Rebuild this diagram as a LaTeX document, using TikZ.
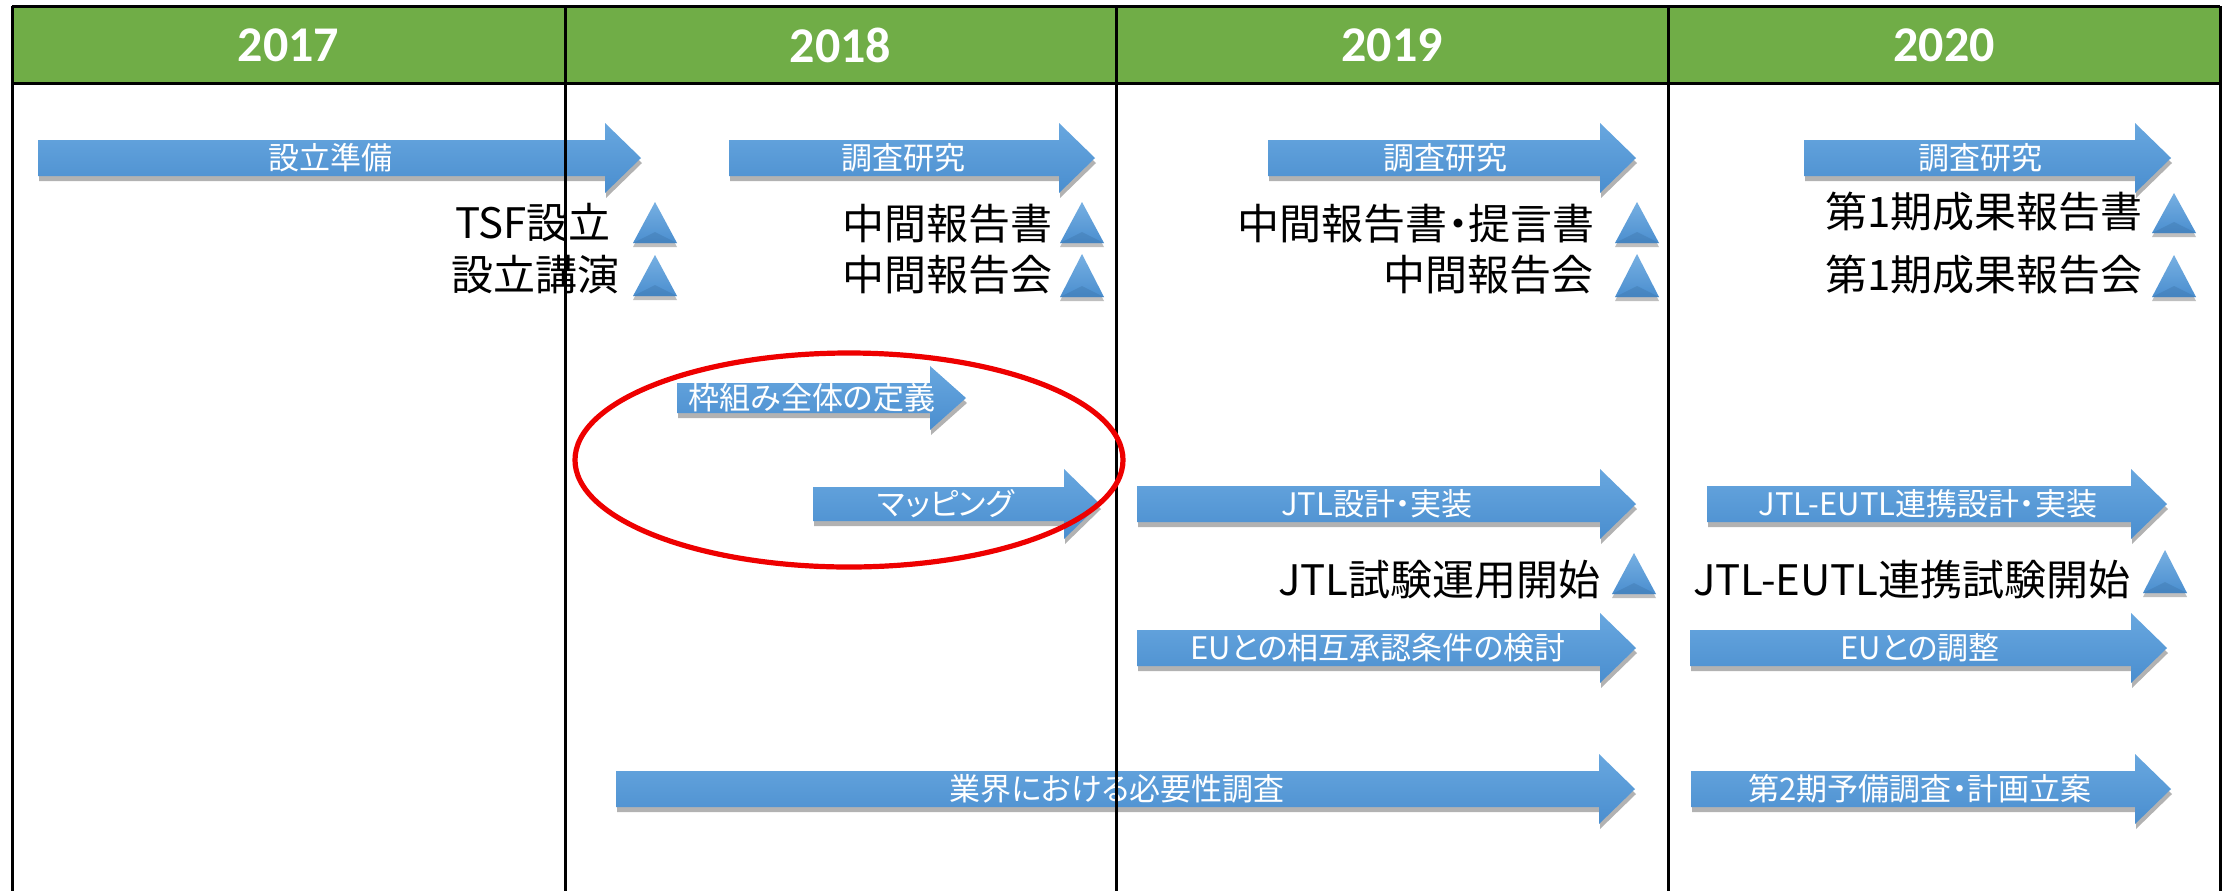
\documentclass[tikz,border=0pt]{standalone}
\usepackage{fontspec}
\usetikzlibrary{shadows}
\newfontfamily\jpa[RawFeature=+palt]{Noto Sans CJK JP}
\newfontfamily\jpb[RawFeature=+palt]{Noto Sans CJK JP}
\newfontfamily\yearfont{Carlito}
\definecolor{hdrgreen}{HTML}{70AD47}
\definecolor{arrtop}{HTML}{68A7DF}
\definecolor{arrbot}{HTML}{4A8ECF}
\definecolor{markred}{HTML}{EE0000}
\tikzset{
  barshape/.style={top color=arrtop, bottom color=arrbot,
    drop shadow={shadow xshift=0.5pt, shadow yshift=-2.5pt, opacity=0.3, fill=black}},
  bartext/.style={font=\jpa\fontsize{15.5}{18}\selectfont, text=white, inner sep=0pt},
  markshape/.style={top color=arrtop!90!white, bottom color=arrbot,
    drop shadow={shadow xshift=0pt, shadow yshift=-2pt, opacity=0.25, fill=black}},
  marktext/.style={font=\jpb\fontsize{21}{24}\selectfont, text=black, inner sep=0pt, anchor=east},
  yeartext/.style={font=\yearfont\bfseries\fontsize{25}{30}\selectfont, text=white, inner sep=0pt},
  gridline/.style={line width=1.5pt, black},
  redring/.style={line width=2.6pt, markred}
}
% name, x1, x2, yc, body half, head half, text x, text
\newcommand\tlbar[8]{%
  \path[barshape] (#2,#4-#5) -- (#3-36,#4-#5) -- (#3-36,#4-#6) -- (#3,#4)
     -- (#3-36,#4+#6) -- (#3-36,#4+#5) -- (#2,#4+#5) -- cycle;
  \node[bartext] (#1) at (#7,#4) {#8};}
% name, text right x, text y, triangle centre x, top y, bottom y, text
\newcommand\tlmark[7]{%
  \path[markshape] (#4-22,#6) -- (#4,#5) -- (#4+22,#6) -- cycle;
  \fill[arrbot!80!black, opacity=0.35] (#4-22,#6) -- (#4,#6-11) -- (#4+22,#6) -- cycle;
  \node[marktext] (#1) at (#2,#3) {#7};}
\begin{document}
\begin{tikzpicture}[x=0.5pt, y=-0.5pt]
\useasboundingbox (0,0) rectangle (2233,890);
\fill[white] (0,0) rectangle (2233,890);
% header band
\fill[hdrgreen] (12,6) rectangle (2220,83);
\node[yeartext] (y2017) at (288.5,45) {2017};
\node[yeartext] (y2018) at (840.5,45) {2018};
\node[yeartext] (y2019) at (1392,45) {2019};
\node[yeartext] (y2020) at (1944,45) {2020};
% bars
\tlbar{a1}{38}{641}{158}{18}{35}{330}{設立準備}
\tlbar{a2}{729}{1095}{158}{18}{35}{903}{調査研究}
\tlbar{a3}{1268}{1636}{158}{18}{35}{1445}{調査研究}
\tlbar{a4}{1804}{2171}{158}{18}{35}{1980}{調査研究}
\tlbar{a5}{677}{966}{398}{15}{32}{812}{枠組み全体の定義}
\tlbar{a6}{813}{1100}{504}{17}{35}{946}{マッピング}
\tlbar{a7}{1137}{1636}{504}{18}{35}{1377}{JTL設計・実装}
\tlbar{a8}{1707}{2167}{504}{18}{35}{1928}{JTL-EUTL連携設計・実装}
\tlbar{a9}{1137}{1636}{648}{18}{35}{1378}{EUとの相互承認条件の検討}
\tlbar{a10}{1690}{2167}{648}{18}{35}{1920}{EUとの調整}
\tlbar{a11}{616}{1635}{789}{18}{35}{1117}{業界における必要性調査}
\tlbar{a12}{1691}{2171}{789}{18}{35}{1920}{第2期予備調査・計画立案}
% milestones
\tlmark{m1}{611}{223}{655}{202}{243}{TSF設立}
\tlmark{m2}{620}{275}{655}{255}{296}{設立講演}
\tlmark{m3}{1053}{224}{1082}{202}{243}{中間報告書}
\tlmark{m4}{1053}{275}{1082}{254}{297}{中間報告会}
\tlmark{m5}{1595}{224}{1637}{202}{243}{中間報告書・提言書}
\tlmark{m6}{1594}{275}{1637}{254}{297}{中間報告会}
\tlmark{m7}{2143}{212}{2174}{193}{233}{第1期成果報告書}
\tlmark{m8}{2143}{275}{2174}{255}{297}{第1期成果報告会}
\tlmark{m9}{1601}{580}{1634}{553}{594}{JTL試験運用開始}
\tlmark{m10}{2131}{580}{2165}{550}{593}{JTL-EUTL連携試験開始}
% grid
\draw[gridline] (12,6) -- (2220,6);
\draw[gridline] (12,83) -- (2220,83);
\foreach \gx in {12,565,1116,1668,2220} {\draw[gridline] (\gx,6) -- (\gx,892);}
% highlight
\draw[redring] (849,460) ellipse [x radius=274, y radius=107];
\end{tikzpicture}
\end{document}
